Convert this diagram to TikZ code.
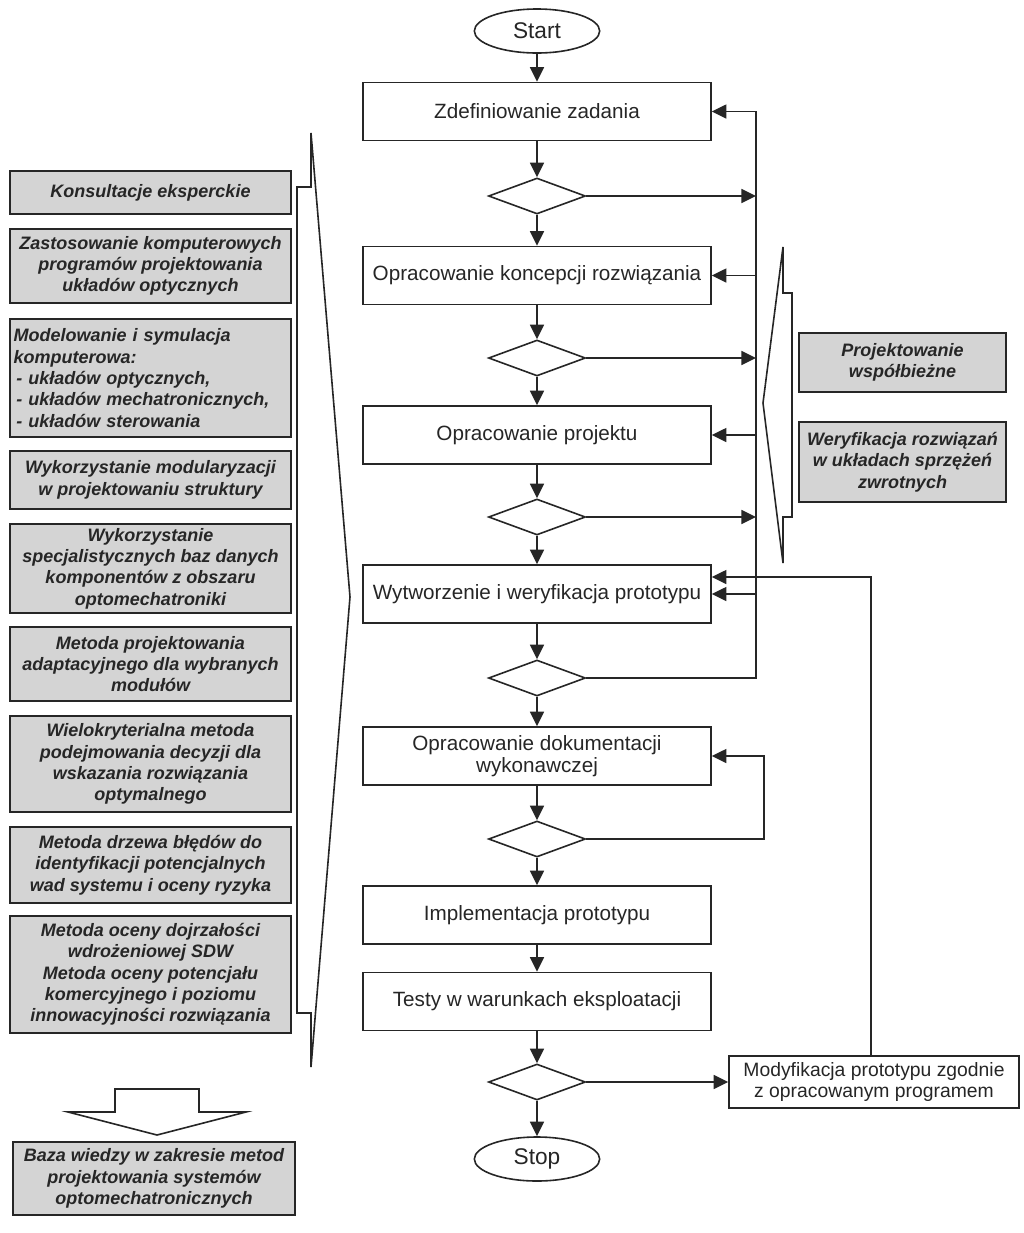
\documentclass[tikz,border=0pt]{standalone}
\usepackage{fontspec}
\setmainfont{Liberation Sans}
\usetikzlibrary{shapes.geometric,arrows.meta}
\definecolor{ink}{HTML}{262626}
\definecolor{boxgray}{HTML}{D4D4D4}
\begin{document}
\begin{tikzpicture}[x=0.75pt,y=-0.75pt,
  flow/.style={draw=ink, line width=1.2pt, fill=white, minimum width=261pt, minimum height=43.5pt, inner sep=0pt, align=center, text=ink, font=\fontsize{15.5}{16.5}\selectfont},
  dec/.style={diamond, draw=ink, line width=1.2pt, fill=white, minimum width=72.75pt, minimum height=27pt, inner sep=0pt},
  term/.style={ellipse, draw=ink, line width=1.2pt, fill=white, minimum width=94pt, minimum height=33pt, inner sep=0pt, text=ink, font=\fontsize{17}{18}\selectfont},
  gbox/.style={draw=ink, line width=1.35pt, fill=boxgray, inner sep=0pt, align=center, text=ink, font=\fontsize{13.5}{16}\selectfont\bfseries\itshape},
  modbox/.style={draw=ink, line width=1.1pt, fill=white, minimum width=217.5pt, minimum height=39pt, inner sep=0pt, align=center, text=ink, font=\fontsize{14.5}{15.75}\selectfont},
  arr/.style={-{Triangle[length=11pt,width=10.5pt]}, line width=1.3pt, draw=ink},
  ln/.style={line width=1.2pt, draw=ink, line join=miter}
]
\useasboundingbox (0,0) rectangle (1024,1233);
\fill[white] (0,0) rectangle (1024,1233);

% main flow
\node[term] (st) at (537,31) {Start};
\node[flow] (b1) at (537,111.5) {Zdefiniowanie zadania};
\node[dec]  (d1) at (537,196) {};
\node[flow] (b2) at (537,275.5) {Opracowanie koncepcji rozwiązania};
\node[dec]  (d2) at (537,358) {};
\node[flow] (b3) at (537,435) {Opracowanie projektu};
\node[dec]  (d3) at (537,517) {};
\node[flow] (b4) at (537,594) {Wytworzenie i weryfikacja prototypu};
\node[dec]  (d4) at (537,678) {};
\node[flow] (b5) at (537,756) {Opracowanie dokumentacji\\wykonawczej};
\node[dec]  (d5) at (537,839) {};
\node[flow] (b6) at (537,915) {Implementacja prototypu};
\node[flow] (b7) at (537,1001.5) {Testy w warunkach eksploatacji};
\node[dec]  (d6) at (537,1082) {};
\node[term] (sp) at (537,1159) {Stop};
\node[modbox] (mod) at (874,1082) {Modyfikacja prototypu zgodnie\\z opracowanym programem};

\draw[arr] (st) -- (b1);
\draw[arr] (b1) -- (d1);
\draw[arr] (d1) -- (b2);
\draw[arr] (b2) -- (d2);
\draw[arr] (d2) -- (b3);
\draw[arr] (b3) -- (d3);
\draw[arr] (d3) -- (b4);
\draw[arr] (b4) -- (d4);
\draw[arr] (d4) -- (b5);
\draw[arr] (b5) -- (d5);
\draw[arr] (d5) -- (b6);
\draw[arr] (b6) -- (b7);
\draw[arr] (b7) -- (d6);
\draw[arr] (d6) -- (sp);
\draw[arr] (d6.east) -- (mod.west);

% feedback bus
\coordinate (busT) at (756,111.5);
\coordinate (busB) at (756,678);
\draw[arr] (d4.east) -- (busB) -- (busT) -- (b1.east);
\draw[arr] (d1.east) -- (d1.east -| busT);
\draw[arr] (d2.east) -- (d2.east -| busT);
\draw[arr] (d3.east) -- (d3.east -| busT);
\draw[arr] (b2.east -| busT) -- (b2.east);
\draw[arr] (b3.east -| busT) -- (b3.east);
\draw[arr] (b4.east -| busT) -- (b4.east);

% loop from d5 to b5
\coordinate (l5) at (764,756);
\draw[arr] (d5.east) -- (d5.east -| l5) -- (l5) -- (b5.east);

% loop from modification to b4
\coordinate (mt) at (871,577);
\draw[arr] (mod.north -| mt) -- (mt) -- (mt -| b4.east);

% left methods
\node[gbox, minimum width=210.75pt, minimum height=32.25pt] (L1) at (150.5,192.5) {Konsultacje eksperckie};
\node[gbox, minimum width=210.75pt, minimum height=55.5pt] (L2) at (150.5,266) {Zastosowanie komputerowych\\programów projektowania\\układów optycznych};
\node[gbox, minimum height=88.5pt, text width=205.25pt, inner xsep=2.75pt, align=left] (L3) at (150.5,378) {Modelowanie i symulacja\\komputerowa:\\\hspace*{2pt}- układów optycznych,\\\hspace*{2pt}- układów mechatronicznych,\\\hspace*{2pt}- układów sterowania};
\node[gbox, minimum width=210.75pt, minimum height=43.5pt] (L4) at (150.5,480) {Wykorzystanie modularyzacji\\w projektowaniu struktury};
\node[gbox, minimum width=210.75pt, minimum height=66.75pt] (L5) at (150.5,568.5) {Wykorzystanie\\specjalistycznych baz danych\\komponentów z obszaru\\optomechatroniki};
\node[gbox, minimum width=210.75pt, minimum height=55.5pt] (L6) at (150.5,664) {Metoda projektowania\\adaptacyjnego dla wybranych\\modułów};
\node[gbox, minimum width=210.75pt, minimum height=72pt] (L7) at (150.5,764) {Wielokryterialna metoda\\podejmowania decyzji dla\\wskazania rozwiązania\\optymalnego};
\node[gbox, minimum width=210.75pt, minimum height=57pt] (L8) at (150.5,865) {Metoda drzewa błędów do\\identyfikacji potencjalnych\\wad systemu i oceny ryzyka};
\node[gbox, minimum width=210.75pt, minimum height=87.75pt] (L9) at (150.5,974.5) {Metoda oceny dojrzałości\\wdrożeniowej SDW\\Metoda oceny potencjału\\komercyjnego i poziomu\\innowacyjności rozwiązania};
\node[gbox, minimum width=211.5pt, minimum height=54.75pt] (BZ) at (154,1178.5) {Baza wiedzy w zakresie metod\\projektowania systemów\\optomechatronicznych};

% left bracket
\draw[ln] (311,133) -- (311,187) -- (297,187) -- (297,1013) -- (311,1013) -- (311,1067) -- (350,597) -- cycle;

% hollow arrow
\draw[ln] (115,1089) -- (199,1089) -- (199,1112) -- (246,1112) -- (157,1135) -- (68,1112) -- (115,1112) -- cycle;

% right boxes
\node[gbox, minimum width=155.25pt, minimum height=44.25pt] (R1) at (902.5,362.5) {Projektowanie\\współbieżne};
\node[gbox, minimum width=155.25pt, minimum height=60pt] (R2) at (902.5,462) {Weryfikacja rozwiązań\\w układach sprzężeń\\zwrotnych};

% right bracket
\draw[ln] (783,247) -- (783,293) -- (792,293) -- (792,517) -- (783,517) -- (783,563) -- (763,403) -- cycle;
\end{tikzpicture}
\end{document}
